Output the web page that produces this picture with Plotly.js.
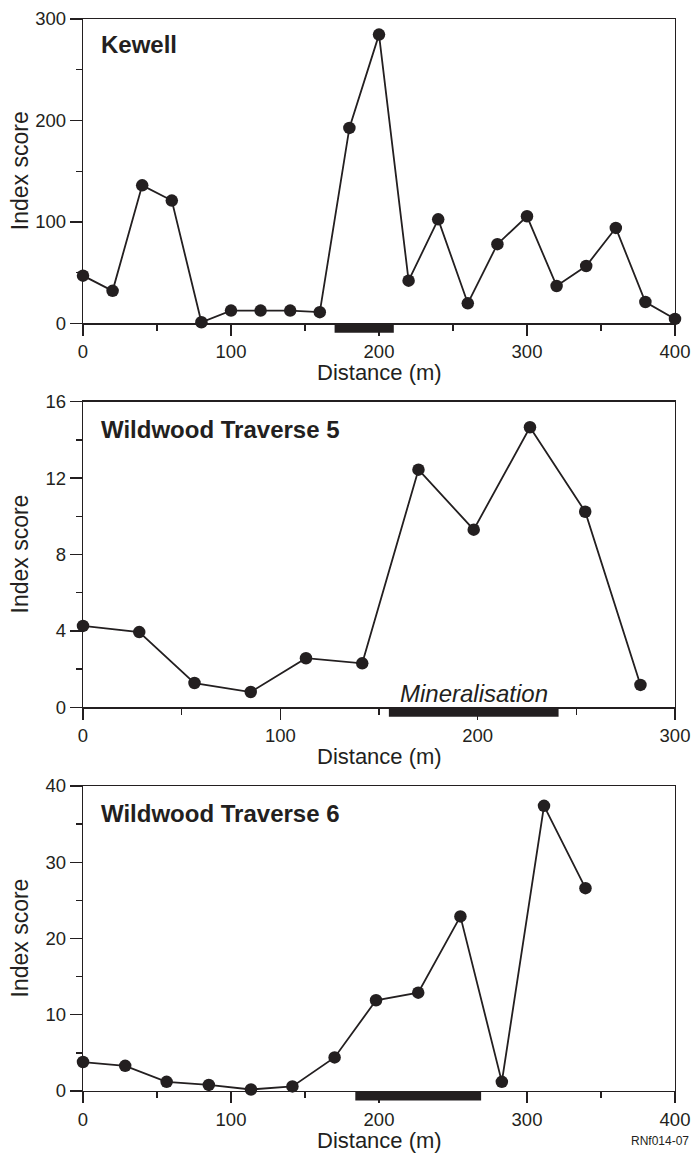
<!DOCTYPE html>
<html>
<head>
<meta charset="utf-8">
<script src="https://cdn.plot.ly/plotly-3.0.1.min.js"></script>
<style>html,body{margin:0;padding:0;background:#fff;}#chart{width:694px;height:1153px;}</style>
</head>
<body>
<div id="chart"></div>
<script>
// ---- Data ----
var panelTitles = ["Kewell", "Wildwood Traverse 5", "Wildwood Traverse 6"];

var kewellDist  = [0, 20, 40, 60, 80, 100, 120, 140, 160, 180, 200, 220, 240, 260, 280, 300, 320, 340, 360, 380, 400];
var kewellScore = [47, 32, 136, 121, 1, 12.5, 12.5, 12.5, 11, 192.6, 284.6, 42, 102.5, 19.7, 78, 105.5, 36.8, 56.5, 94, 21, 4.3];

var ww5Dist  = [0, 28.5, 56.5, 85, 113, 141.5, 170, 198, 226.5, 254.5, 282.5];
var ww5Score = [4.26, 3.94, 1.27, 0.80, 2.57, 2.30, 12.44, 9.30, 14.66, 10.24, 1.17];

var ww6Dist  = [0, 28.5, 56.5, 85, 113.5, 141.5, 170, 198, 226.5, 255, 283, 311.5, 339.5];
var ww6Score = [3.8, 3.3, 1.2, 0.8, 0.2, 0.6, 4.4, 11.9, 12.9, 22.9, 1.2, 37.4, 26.6];

// mineralisation zones (start, end distance in m)
var kewellMineral = [170, 210];
var ww5Mineral    = [155, 241];
var ww6Mineral    = [184, 269];
var mineralLabel  = "Mineralisation";

var xRanges = [[0, 400], [0, 300], [0, 400]];
var yRanges = [[0, 300], [0, 16], [0, 40]];
var yDticks = [100, 4, 10];
var xTitle = "Distance (m)";
var yTitle = "Index score";
var figCode = "RNf014-07";

// ---- Layout geometry ----
var W = 694, H = 1153;
var INK = "#231f20";
var FONT = "Liberation Sans, Arial, Helvetica, sans-serif";
var xDom = [83 / W, 675 / W];
var plotPx = [[19, 323.3], [401.7, 707.3], [786, 1091]]; // top, bottom in px
function py(p) { return 1 - p / H; }
var yDoms = plotPx.map(function (p) { return [py(p[1]), py(p[0])]; });

var dists = [kewellDist, ww5Dist, ww6Dist];
var scores = [kewellScore, ww5Score, ww6Score];
var minerals = [kewellMineral, ww5Mineral, ww6Mineral];

var data = [];
var layout = {
  width: W, height: H,
  margin: {l: 0, r: 0, t: 0, b: 0},
  paper_bgcolor: "#fff", plot_bgcolor: "#fff",
  showlegend: false,
  font: {family: FONT, color: INK},
  shapes: [], annotations: []
};

for (var i = 0; i < 3; i++) {
  var n = i === 0 ? "" : String(i + 1);
  data.push({
    x: dists[i], y: scores[i],
    xaxis: "x" + n, yaxis: "y" + n,
    type: "scatter", mode: "lines+markers",
    line: {color: INK, width: 1.8},
    marker: {color: INK, size: 12.5},
    cliponaxis: false,
    hoverinfo: "x+y"
  });
  var axCommon = {
    showline: true, linecolor: INK, linewidth: 1.3, mirror: true,
    ticks: "outside", tickwidth: 1.3, tickcolor: INK,
    showgrid: false, zeroline: false, layer: "below traces",
    tickfont: {family: FONT, size: 18.5, color: INK},
    fixedrange: true
  };
  layout["xaxis" + n] = Object.assign({}, axCommon, {
    domain: xDom, range: xRanges[i], anchor: "y" + n,
    tick0: 0, dtick: 100, ticklen: 11,
    minor: {ticks: "outside", ticklen: 6, tickwidth: 1.3, tickcolor: INK, dtick: 50, showgrid: false}
  });
  layout["yaxis" + n] = Object.assign({}, axCommon, {
    domain: yDoms[i], range: yRanges[i], anchor: "x" + n,
    tick0: 0, dtick: yDticks[i], ticklen: 12,
    minor: {ticks: "outside", ticklen: 6, tickwidth: 1.3, tickcolor: INK, dtick: yDticks[i] / 2, showgrid: false}
  });

  // mineralisation bar just below the x axis
  var hPx = plotPx[i][1] - plotPx[i][0];
  layout.shapes.push({
    type: "rect", xref: "x" + n, yref: "y" + n + " domain",
    x0: minerals[i][0], x1: minerals[i][1],
    y0: -9.5 / hPx, y1: 0,
    fillcolor: INK, line: {width: 0}, layer: "above"
  });

  // panel title
  var titleCenters = [44.5, 429, 813];
  layout.annotations.push({
    text: "<b>" + panelTitles[i] + "</b>",
    xref: "paper", yref: "paper", x: 99 / W, y: py(titleCenters[i]),
    xanchor: "left", yanchor: "middle", showarrow: false,
    font: {family: FONT, size: 24, color: INK}
  });
  // x axis title
  layout.annotations.push({
    text: xTitle, xref: "paper", yref: "paper",
    x: (xDom[0] + xDom[1]) / 2, y: py(plotPx[i][1] + 49.5),
    xanchor: "center", yanchor: "middle", showarrow: false,
    font: {family: FONT, size: 22, color: INK}
  });
  // y axis title
  layout.annotations.push({
    text: yTitle, xref: "paper", yref: "paper",
    x: 20 / W, y: py((plotPx[i][0] + plotPx[i][1]) / 2),
    xanchor: "center", yanchor: "middle", textangle: -90, showarrow: false,
    font: {family: FONT, size: 23, color: INK}
  });
}

// Mineralisation label (panel 2)
layout.annotations.push({
  text: "<i>" + mineralLabel + "</i>",
  xref: "x2", yref: "paper",
  x: (ww5Mineral[0] + ww5Mineral[1]) / 2, y: py(693),
  xanchor: "center", yanchor: "middle", showarrow: false,
  font: {family: FONT, size: 24, color: INK}
});
// figure code
layout.annotations.push({
  text: figCode, xref: "paper", yref: "paper",
  x: 691 / W, y: py(1141), xanchor: "right", yanchor: "middle", showarrow: false,
  font: {family: FONT, size: 12, color: INK}
});

Plotly.newPlot("chart", data, layout, {displayModeBar: false, staticPlot: true});
</script>
</body>
</html>
